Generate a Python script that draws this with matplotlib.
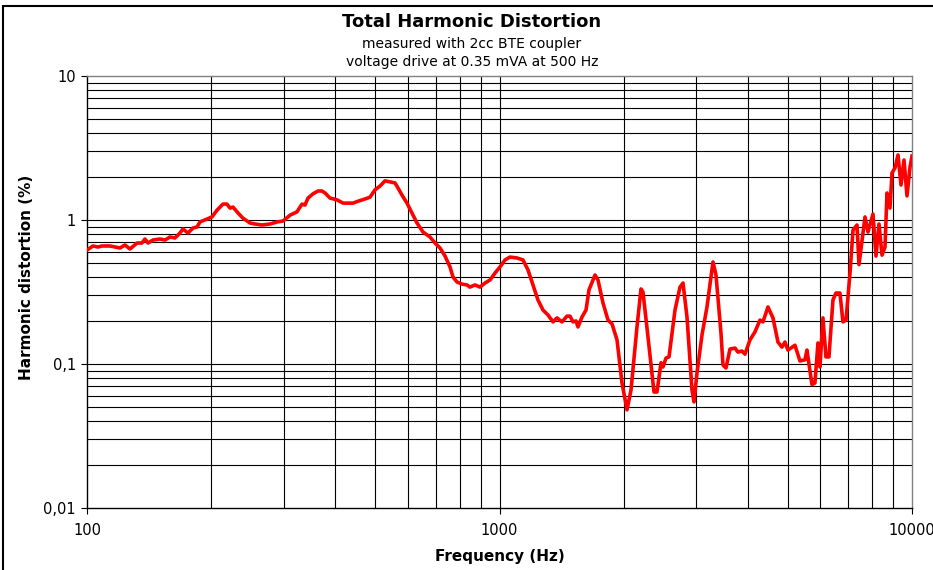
import matplotlib
matplotlib.use("Agg")
import matplotlib.pyplot as plt
from matplotlib.patches import Rectangle
from matplotlib.ticker import FixedLocator, NullFormatter

plt.rcParams['font.family'] = ['DejaVu Sans']

freq = [100, 103.4, 106.3, 108.7, 113.7, 120.2, 123.6, 127.1, 132.2, 135.9, 138.2, 140.6,
        144.5, 150.3, 154.6, 158.9, 163.4, 168.0, 170.9, 175.7, 180.7, 184.8, 187.9, 195.4,
        200.9, 206.6, 213.6, 218.4, 222.2, 225.9, 232.3, 238.8, 248.4, 255.4, 265.6, 277.8,
        288.8, 298.7, 310.6, 322.9, 332.0, 337.6, 343.4, 353.1, 363.1, 371.3, 377.6, 388.3,
        403.7, 417.5, 426.9, 441.4, 453.9, 472.0, 485.4, 499.1, 513.2, 527.7, 542.6, 558.0,
        567.4, 580.2, 596.6, 613.5, 631.0, 652.4, 678.5, 697.7, 717.5, 737.8, 758.6, 771.4,
        788.8, 811.1, 834.1, 848.2, 872.2, 896.9, 922.2, 948.3, 975.2, 1002.8, 1031.2, 1060.3,
        1102.6, 1140.1, 1172.4, 1205.6, 1239.7, 1274.8, 1310.9, 1348.0, 1378.4, 1417.4, 1457.5,
        1482.1, 1507.2, 1532.6, 1549.8, 1584.9, 1620.7, 1648.0, 1704.2, 1733.0, 1782.1, 1832.5,
        1873.9, 1927.0, 1981.5, 2037.5, 2083.5, 2154.4, 2203.1, 2227.8, 2290.9, 2368.9, 2408.9,
        2463.3, 2490.9, 2533.0, 2575.8, 2663.5, 2738.9, 2785.2, 2848.0, 2928.6, 2961.5, 3011.5,
        3096.6, 3184.2, 3292.6, 3348.2, 3442.9, 3481.6, 3540.3, 3620.3, 3722.7, 3785.6, 3870.9,
        3936.2, 4047.6, 4162.2, 4280.0, 4352.2, 4475.4, 4602.1, 4732.3, 4838.8, 4920.5, 5003.5,
        5203.0, 5350.2, 5501.7, 5563.4, 5720.9, 5817.5, 5915.7, 5982.1, 6083.1, 6185.8, 6290.2,
        6432.2, 6540.8, 6688.4, 6801.4, 6918.3, 7074.5, 7194.0, 7356.4, 7439.0, 7692.3, 7822.2,
        8042.8, 8178.8, 8317.6, 8458.1, 8601.0, 8697.5, 8844.4, 8943.6, 9094.6, 9248.3, 9404.5,
        9563.4, 9724.9, 9889.2, 10000]

thd = [0.619, 0.66, 0.649, 0.66, 0.66, 0.639, 0.671, 0.629, 0.692, 0.692, 0.738, 0.692,
       0.726, 0.738, 0.726, 0.762, 0.75, 0.812, 0.866, 0.812, 0.88, 0.894, 0.969, 1.016,
       1.05, 1.17, 1.29, 1.29, 1.21, 1.23, 1.12, 1.03, 0.953, 0.938, 0.923, 0.938,
       0.969, 0.984, 1.08, 1.14, 1.29, 1.27, 1.42, 1.52, 1.59, 1.59, 1.54, 1.42,
       1.38, 1.31, 1.31, 1.31, 1.35, 1.40, 1.44, 1.62, 1.72, 1.87, 1.84, 1.81,
       1.67, 1.49, 1.31, 1.12, 0.953, 0.825, 0.762, 0.692, 0.639, 0.562, 0.472, 0.402,
       0.371, 0.359, 0.354, 0.342, 0.354, 0.342, 0.365, 0.383, 0.428, 0.472, 0.528, 0.553,
       0.545, 0.528, 0.450, 0.354, 0.278, 0.237, 0.219, 0.196, 0.209, 0.196, 0.215,
       0.215, 0.196, 0.199, 0.181, 0.212, 0.237, 0.327, 0.415, 0.383, 0.265, 0.202,
       0.190, 0.147, 0.0738, 0.048, 0.066, 0.181, 0.332, 0.316, 0.154, 0.0639, 0.0639,
       0.102, 0.0953, 0.110, 0.112, 0.237, 0.342, 0.365, 0.212, 0.066, 0.0545, 0.0866,
       0.159, 0.249, 0.511, 0.415, 0.164, 0.0984, 0.0938, 0.127, 0.129, 0.121, 0.123,
       0.117, 0.147, 0.167, 0.202, 0.196, 0.249, 0.209, 0.142, 0.131, 0.142, 0.125,
       0.135, 0.105, 0.107, 0.125, 0.072, 0.0738, 0.14, 0.0953, 0.209, 0.112, 0.112,
       0.278, 0.311, 0.311, 0.196, 0.202, 0.428, 0.852, 0.923, 0.49, 1.05, 0.825,
       1.10, 0.562, 0.938, 0.57, 0.649, 1.54, 1.21, 2.12, 2.30, 2.83, 1.75,
       2.61, 1.47, 2.33, 2.78]

y_ticks = [0.01, 0.1, 1, 10]
y_tick_labels = ["0,01", "0,1", "1", "10"]
x_ticks = [100, 1000, 10000]
x_tick_labels = ["100", "1000", "10000"]

title = "Total Harmonic Distortion"
subtitle1 = "measured with 2cc BTE coupler"
subtitle2 = "voltage drive at 0.35 mVA at 500 Hz"

W, H = 933, 570
fig = plt.figure(figsize=(W / 100, H / 100), dpi=100)
ax = fig.add_axes([87 / W, 1 - 508 / H, (912 - 87) / W, (508 - 76) / H])

ax.set_xscale('log')
ax.set_yscale('log')
ax.set_xlim(100, 10000)
ax.set_ylim(0.01, 10)

# gridlines
minor_x = [m * d for d in (100, 1000) for m in range(2, 10)]
minor_y = [m * d for d in (0.01, 0.1, 1) for m in range(2, 10)]
for xv in minor_x + [1000]:
    ax.axvline(xv, color='black', lw=0.8, zorder=1)
for yv in minor_y + [0.1, 1]:
    ax.axhline(yv, color='black', lw=0.8, zorder=1)

ax.plot(freq, thd, color='#ff0000', lw=2.6, zorder=3, solid_joinstyle='round')

ax.xaxis.set_major_locator(FixedLocator(x_ticks))
ax.set_xticklabels(x_tick_labels)
ax.yaxis.set_major_locator(FixedLocator(y_ticks))
ax.set_yticklabels(y_tick_labels)
ax.xaxis.set_minor_locator(FixedLocator([]))
ax.yaxis.set_minor_locator(FixedLocator([]))
ax.xaxis.set_minor_formatter(NullFormatter())
ax.yaxis.set_minor_formatter(NullFormatter())
ax.tick_params(axis='both', which='major', direction='out', length=4, width=0.8,
               labelsize=10.5, color='black')
ax.tick_params(axis='x', pad=7)
ax.tick_params(axis='y', pad=4)

for s in ('top', 'right'):
    ax.spines[s].set_color('#808080')
    ax.spines[s].set_linewidth(1.0)
for s in ('left', 'bottom'):
    ax.spines[s].set_color('black')
    ax.spines[s].set_linewidth(1.0)

ax.set_xlabel("Frequency (Hz)", fontsize=11, fontweight='bold', labelpad=8)
fig.text(27 / W, 1 - 277 / H, "Harmonic distortion (%)", rotation=90, fontsize=11,
         fontweight='bold', ha='center', va='center')

cx = 472 / W
fig.text(cx, 1 - 22 / H, title, fontsize=13, fontweight='bold', ha='center', va='center')
fig.text(cx, 1 - 44 / H, subtitle1, fontsize=10, ha='center', va='center')
fig.text(cx, 1 - 62 / H, subtitle2, fontsize=10, ha='center', va='center')

# outer chart border
fig.patches.append(Rectangle((3 / W, -0.1), 1.2, 1 - 6 / H + 0.1, transform=fig.transFigure,
                             fill=False, edgecolor='black', lw=1.5, zorder=0))

fig.savefig("out.png", dpi=100)
